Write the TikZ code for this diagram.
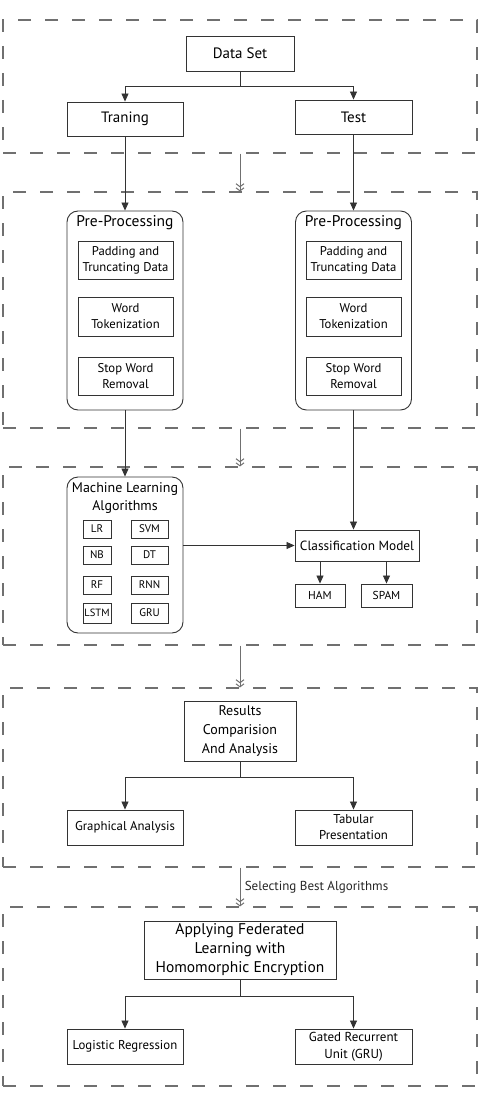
\documentclass[tikz,border=0pt]{standalone}
\usepackage{fontspec}
\setmainfont{PT Sans}
\usetikzlibrary{arrows.meta}

\definecolor{framegray}{HTML}{707070}
\definecolor{boxline}{HTML}{333333}

\tikzset{
  frame/.style={draw=framegray, line width=1.1pt, dash pattern=on 13pt off 14pt, minimum width=474, inner sep=0pt},
  box/.style={draw=boxline, line width=0.9pt, align=center, inner sep=1pt, font=\fontsize{12.7}{16}\selectfont},
  roundbox/.style={box, rounded corners=11pt},
  smallbox/.style={box, font=\fontsize{11}{12}\selectfont},
  arrow/.style={draw=boxline, line width=0.8pt, -{Triangle[length=8pt,width=7pt]}},
  link/.style={draw=framegray, line width=1pt, -{Straight Barb[length=3pt,width=8pt]Straight Barb[length=3pt,width=8pt]}},
}

\begin{document}
\begin{tikzpicture}[x=1pt,y=-1pt]
\useasboundingbox (0,0) rectangle (480,1105);

% dashed stages
\node[frame, minimum height=133] (f1) at (240,86.5) {};
\node[frame, minimum height=236] (f2) at (240,310) {};
\node[frame, minimum height=178] (f3) at (240,556) {};
\node[frame, minimum height=179] (f4) at (240,777.5) {};
\node[frame, minimum height=179] (f5) at (240,996.5) {};

\draw[link] (f1.south) -- (f2.north);
\draw[link] (f2.south) -- (f3.north);
\draw[link] (f3.south) -- (f4.north);
\draw[link] (f4.south) -- node[right, xshift=1pt, text=black!85, font=\fontsize{13}{15}\selectfont] {Selecting Best Algorithms} (f5.north);

% data set
\node[box, minimum width=108, minimum height=35, font=\fontsize{15}{17}\selectfont] (dataset) at (240,53.5) {Data Set};
\node[box, minimum width=116, minimum height=34, font=\fontsize{15}{17}\selectfont] (traning) at (125,119) {Traning};
\node[box, minimum width=117, minimum height=34, font=\fontsize{15}{17}\selectfont] (test) at (353.5,117) {Test};
\draw[arrow] (dataset.south) -- ++(0,15) -| (traning.north);
\draw[arrow] (dataset.south) -- ++(0,15) -| (test.north);

% pre-processing
\node[roundbox, minimum width=116, minimum height=199] (ppl) at (125,310.5) {};
\node[roundbox, minimum width=116, minimum height=199] (ppr) at (353.5,310.5) {};
\node[font=\fontsize{15.5}{17}\selectfont] (ppltitle) at (125,223) {Pre-Processing};
\node[font=\fontsize{15.5}{17}\selectfont] (pprtitle) at (353.5,223) {Pre-Processing};
\node[box, minimum width=95, minimum height=38] (padl) at (125.5,260) {Padding and\\Truncating Data};
\node[box, minimum width=95, minimum height=39] (wordl) at (125.5,316.5) {Word\\Tokenization};
\node[box, minimum width=95, minimum height=38] (stopl) at (125.5,376) {Stop Word\\Removal};
\node[box, minimum width=95, minimum height=38] (padr) at (353.5,260) {Padding and\\Truncating Data};
\node[box, minimum width=95, minimum height=39] (wordr) at (353.5,316.5) {Word\\Tokenization};
\node[box, minimum width=95, minimum height=38] (stopr) at (353.5,376) {Stop Word\\Removal};
\draw[arrow] (traning.south) -- (ppl.north);
\draw[arrow] (test.south -| ppr.north) -- (ppr.north);

% machine learning
\node[roundbox, minimum width=116, minimum height=156] (ml) at (125,555) {};
\node[align=center, font=\fontsize{14}{18}\selectfont] (mltitle) at (125,498) {Machine Learning\\Algorithms};
\node[smallbox, minimum width=28, minimum height=18] (lr) at (97,529) {LR};
\node[smallbox, minimum width=37, minimum height=18] (svm) at (149.5,529) {SVM};
\node[smallbox, minimum width=28, minimum height=18] (nb) at (97,555) {NB};
\node[smallbox, minimum width=37, minimum height=18] (dt) at (149.5,555) {DT};
\node[smallbox, minimum width=28, minimum height=18] (rf) at (97,585) {RF};
\node[smallbox, minimum width=37, minimum height=18] (rnn) at (149.5,585) {RNN};
\node[smallbox, minimum width=28, minimum height=20, font=\fontsize{10.5}{12}\selectfont] (lstm) at (97,613) {LSTM};
\node[smallbox, minimum width=37, minimum height=20] (gru) at (149.5,613) {GRU};
\draw[arrow] (ppl.south) -- (ml.north);

\node[box, minimum width=124, minimum height=31, font=\fontsize{13.3}{15}\selectfont] (class) at (357,545.5) {Classification Model};
\node[box, minimum width=50, minimum height=23, font=\fontsize{11.5}{13}\selectfont] (ham) at (320,595.5) {HAM};
\node[box, minimum width=51, minimum height=23, font=\fontsize{11.5}{13}\selectfont] (spam) at (386.5,595.5) {SPAM};
\draw[arrow] (ppr.south) -- (ppr.south |- class.north);
\draw[arrow] (ml.east |- class.west) -- (class.west);
\draw[arrow] (ham.north |- class.south) -- (ham.north);
\draw[arrow] (spam.north |- class.south) -- (spam.north);

% results
\node[box, minimum width=112, minimum height=60, font=\fontsize{14}{19}\selectfont] (results) at (240,731) {Results\\Comparision\\And Analysis};
\node[box, minimum width=116, minimum height=35, font=\fontsize{12.8}{16}\selectfont] (graph) at (125,827.5) {Graphical Analysis};
\node[box, minimum width=117, minimum height=35, font=\fontsize{12.8}{16}\selectfont] (tabular) at (353.5,827.5) {Tabular\\Presentation};
\draw[arrow] (results.south) -- ++(0,16) -| (graph.north);
\draw[arrow] (results.south) -- ++(0,16) -| (tabular.north);

% federated learning
\node[box, minimum width=192, minimum height=58, font=\fontsize{15.5}{19}\selectfont] (applying) at (240,950) {Applying Federated\\Learning with\\Homomorphic Encryption};
\node[box, minimum width=116, minimum height=35, font=\fontsize{12.8}{16}\selectfont] (logistic) at (125,1046.5) {Logistic Regression};
\node[box, minimum width=117, minimum height=35, font=\fontsize{13}{17}\selectfont] (gated) at (353.5,1046.5) {Gated Recurrent\\Unit (GRU)};
\draw[arrow] (applying.south) -- ++(0,17) -| (logistic.north);
\draw[arrow] (applying.south) -- ++(0,17) -| (gated.north);
\end{tikzpicture}
\end{document}
